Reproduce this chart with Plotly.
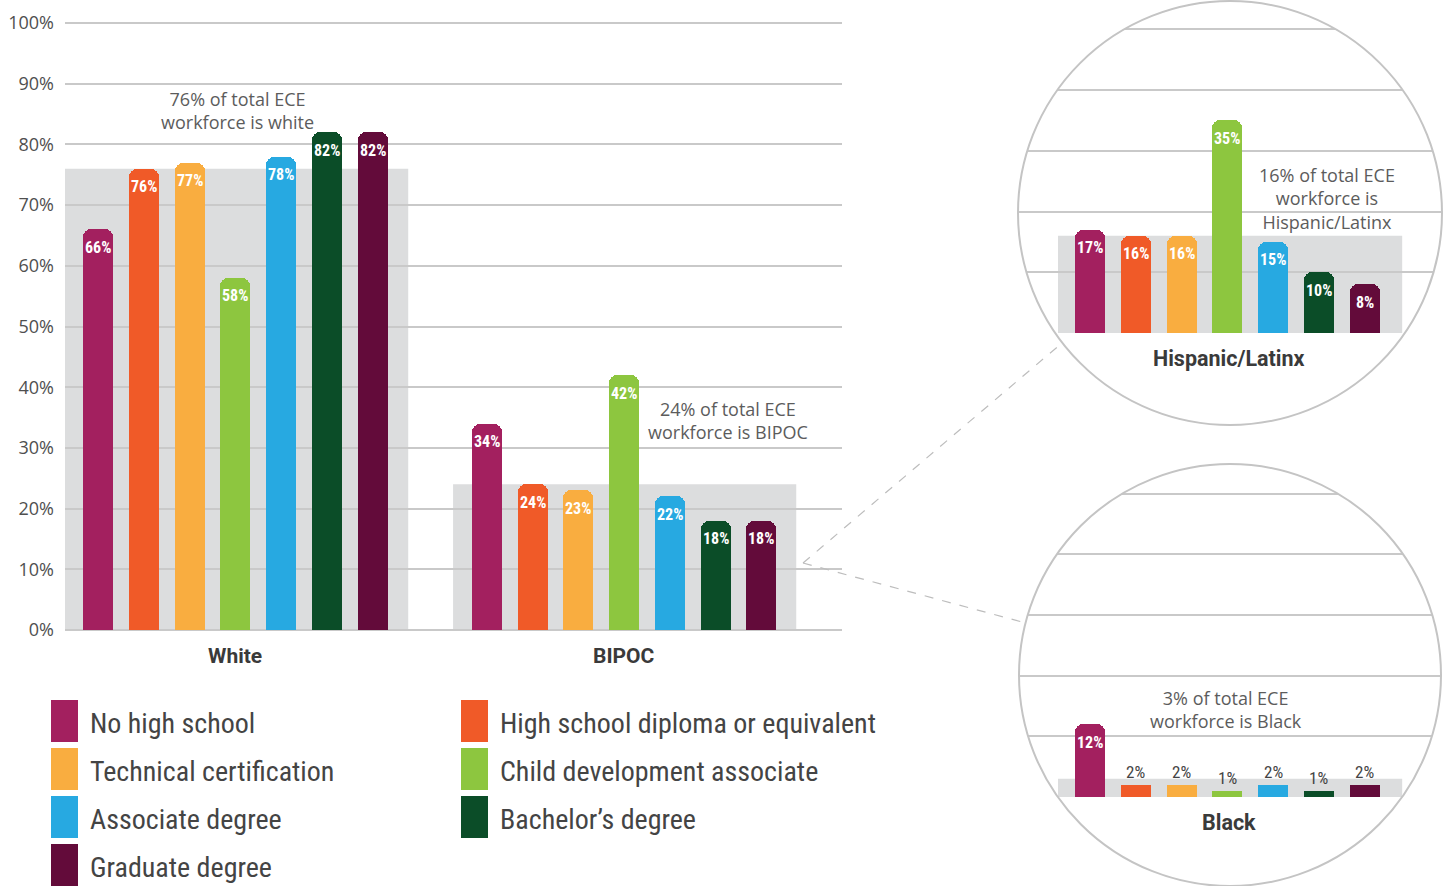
import plotly.graph_objects as go

# ---------------- data ----------------
levels = ["No high school", "High school diploma or equivalent", "Technical certification",
          "Child development associate", "Associate degree", "Bachelor’s degree", "Graduate degree"]
colors = ["#A3205F", "#F05A28", "#F9AD40", "#8DC63F", "#27A9E1", "#0B4D28", "#630B3A"]
white = [66, 76, 77, 58, 78, 82, 82]
bipoc = [34, 24, 23, 42, 22, 18, 18]
hispanic = [17, 16, 16, 35, 15, 10, 8]
black = [12, 2, 2, 1, 2, 1, 2]
group_names = ["White", "BIPOC"]
group_shares = [76, 24]
hispanic_share = 16
black_share = 3
y_ticks = [0, 10, 20, 30, 40, 50, 60, 70, 80, 90, 100]
y_ticktext = [f"{v}%" for v in y_ticks]
inset_ticks = [10, 20, 30, 40, 50]

# ---------------- geometry helpers ----------------
W, H = 1447, 886
def px(x):
    return x / W
def py(y):
    return 1 - y / H

NARROW = "Liberation Sans Narrow, Arial Narrow, Roboto Condensed, sans-serif"
SANS = "Open Sans, Roboto, sans-serif"
BOLD = "Roboto, Open Sans, sans-serif"
GRID = "#c9c9c9"
GRAYBOX = "#dcddde"
TXT = "#5c5c5c"
DARK = "#3a3a3a"

n = len(levels)
white_x = [i for i in range(n)]
bipoc_x = [8.5 + i for i in range(n)]
inset_x = [i for i in range(n)]
BW = 0.656

fig = go.Figure()

for i in range(n):
    fig.add_trace(go.Bar(x=[white_x[i], bipoc_x[i]], y=[white[i], bipoc[i]], width=BW,
                         marker=dict(color=colors[i], cornerradius=8, line=dict(width=0)),
                         name=levels[i], showlegend=False, xaxis="x", yaxis="y"))
    fig.add_trace(go.Bar(x=[inset_x[i]], y=[hispanic[i]], width=BW,
                         marker=dict(color=colors[i], cornerradius=8, line=dict(width=0)),
                         name=levels[i], showlegend=False, xaxis="x2", yaxis="y2"))
    fig.add_trace(go.Bar(x=[inset_x[i]], y=[black[i]], width=BW,
                         marker=dict(color=colors[i], cornerradius=8 if black[i] >= 5 else 0,
                                     line=dict(width=0)),
                         name=levels[i], showlegend=False, xaxis="x3", yaxis="y3"))

annotations = []
def bar_label(xr, yr, x, v, inside=True):
    if inside:
        annotations.append(dict(x=x, y=v, xref=xr, yref=yr, text=f"{v}%", showarrow=False,
                                xanchor="center", yanchor="middle", yshift=-18,
                                font=dict(family=NARROW, size=16, color="white", weight="bold")))
    else:
        annotations.append(dict(x=x, y=v, xref=xr, yref=yr, text=f"{v}%", showarrow=False,
                                xanchor="center", yanchor="middle", yshift=13,
                                font=dict(family=NARROW, size=17, color="#444444")))

for i in range(n):
    bar_label("x", "y", white_x[i], white[i])
    bar_label("x", "y", bipoc_x[i], bipoc[i])
    bar_label("x2", "y2", inset_x[i], hispanic[i])
    bar_label("x3", "y3", inset_x[i], black[i], inside=black[i] >= 5)

# group labels
group_centers = [sum(white_x) / n, sum(bipoc_x) / n]
for name, c in zip(group_names, group_centers):
    annotations.append(dict(x=c, y=py(656), xref="x", yref="paper", text=name, showarrow=False,
                            xanchor="center", yanchor="middle",
                            font=dict(family=BOLD, size=21, color=DARK, weight="bold")))

annotations.append(dict(x=px(1229), y=py(358), xref="paper", yref="paper", text="Hispanic/Latinx",
                        showarrow=False, xanchor="center", yanchor="middle",
                        font=dict(family=BOLD, size=21.5, color=DARK, weight="bold")))
annotations.append(dict(x=px(1229), y=py(822), xref="paper", yref="paper", text="Black",
                        showarrow=False, xanchor="center", yanchor="middle",
                        font=dict(family=BOLD, size=21.5, color=DARK, weight="bold")))

# callouts
callouts = [
    (237, 110, f"{group_shares[0]}% of total ECE<br>workforce is white"),
    (728, 421, f"{group_shares[1]}% of total ECE<br>workforce is BIPOC"),
    (1327, 198, f"{hispanic_share}% of total ECE<br>workforce is<br>Hispanic/Latinx"),
    (1226, 709, f"{black_share}% of total ECE<br>workforce is Black"),
]
for x, y, t in callouts:
    annotations.append(dict(x=px(x), y=py(y), xref="paper", yref="paper", text=t, showarrow=False,
                            xanchor="center", yanchor="middle", align="center",
                            font=dict(family=SANS, size=18, color=TXT)))

shapes = []
# gray share boxes
shapes.append(dict(type="rect", xref="x", yref="y", x0=-0.721, x1=6.78, y0=0, y1=group_shares[0],
                   fillcolor=GRAYBOX, line=dict(width=0), layer="below"))
shapes.append(dict(type="rect", xref="x", yref="y", x0=7.76, x1=15.26, y0=0, y1=group_shares[1],
                   fillcolor=GRAYBOX, line=dict(width=0), layer="below"))
shapes.append(dict(type="rect", xref="x2", yref="y2", x0=-0.70, x1=6.82, y0=0, y1=hispanic_share,
                   fillcolor=GRAYBOX, line=dict(width=0), layer="below"))
shapes.append(dict(type="rect", xref="x3", yref="y3", x0=-0.70, x1=6.82, y0=0, y1=black_share,
                   fillcolor=GRAYBOX, line=dict(width=0), layer="below"))

# masks outside the circles
def circle_mask(cx, cy, r, rx0, ry0, rx1, ry1):
    k = 0.5523 * r
    P = lambda x, y: f"{px(x):.5f},{py(y):.5f}"
    d = f"M {P(rx0, ry0)} L {P(rx1, ry0)} L {P(rx1, ry1)} L {P(rx0, ry1)} Z "
    d += (f"M {P(cx + r, cy)} "
          f"C {P(cx + r, cy - k)} {P(cx + k, cy - r)} {P(cx, cy - r)} "
          f"C {P(cx - k, cy - r)} {P(cx - r, cy - k)} {P(cx - r, cy)} "
          f"C {P(cx - r, cy + k)} {P(cx - k, cy + r)} {P(cx, cy + r)} "
          f"C {P(cx + k, cy + r)} {P(cx + r, cy + k)} {P(cx + r, cy)} Z")
    return dict(type="path", xref="paper", yref="paper", path=d, fillcolor="white",
                fillrule="evenodd", line=dict(width=0), layer="above")

HC = (1230, 213, 212)
BC = (1230, 675, 211)
shapes.append(circle_mask(*HC, 1012, -2, 1447, 334))
shapes.append(circle_mask(*BC, 1012, 460, 1447, 798))
for cx, cy, r in (HC, BC):
    shapes.append(dict(type="circle", xref="paper", yref="paper", x0=px(cx - r), x1=px(cx + r),
                       y0=py(cy + r), y1=py(cy - r), line=dict(color="#c4c4c4", width=2),
                       layer="above"))
# connector lines
for (x0, y0, x1, y1) in [(803, 563, 1062, 343), (803, 563, 1022, 622)]:
    shapes.append(dict(type="line", xref="paper", yref="paper", x0=px(x0), y0=py(y0),
                       x1=px(x1), y1=py(y1), line=dict(color="#bdbdbd", width=1.2, dash="dash"),
                       layer="above"))

# custom legend
for i, (lab, col) in enumerate(zip(levels, colors)):
    row, c = i // 2, i % 2
    sx = [51, 461][c]
    top = 700 + 48 * row
    shapes.append(dict(type="rect", xref="paper", yref="paper", x0=px(sx), x1=px(sx + 27),
                       y0=py(top + 42), y1=py(top), fillcolor=col, line=dict(width=0)))
    annotations.append(dict(x=px(sx + 37), y=py(top + 23), xref="paper", yref="paper", text=lab,
                            showarrow=False, xanchor="left", yanchor="middle",
                            font=dict(family=NARROW, size=28, color="#444444")))

fig.update_layout(
    width=W, height=H, margin=dict(l=0, r=0, t=0, b=0),
    paper_bgcolor="white", plot_bgcolor="rgba(0,0,0,0)",
    barmode="overlay", bargap=0,
    showlegend=False,
    xaxis=dict(domain=[px(65), px(842)], range=[-0.721, 16.26], showgrid=False, zeroline=False,
               showticklabels=False, fixedrange=True),
    yaxis=dict(domain=[py(630), py(17)], range=[0, 101], tickvals=y_ticks, ticktext=y_ticktext,
               showgrid=True, gridcolor=GRID, gridwidth=1.5, zeroline=True, zerolinecolor=GRID,
               zerolinewidth=1.5, tickfont=dict(family=SANS, size=18, color="#4f4f4f"),
               ticklabelstandoff=10, automargin=False),
    xaxis2=dict(domain=[px(1017), px(1442)], range=[-1.596, 7.69], visible=False, anchor="y2"),
    yaxis2=dict(domain=[py(333), py(2)], range=[0, 54.5], tickvals=inset_ticks, showticklabels=False,
                showgrid=True, gridcolor=GRID, gridwidth=1.5, zeroline=False, anchor="x2"),
    xaxis3=dict(domain=[px(1017), px(1442)], range=[-1.596, 7.69], visible=False, anchor="y3"),
    yaxis3=dict(domain=[py(797), py(464)], range=[0, 54.9], tickvals=inset_ticks, showticklabels=False,
                showgrid=True, gridcolor=GRID, gridwidth=1.5, zeroline=False, anchor="x3"),
    annotations=annotations, shapes=shapes,
)

fig.write_html("out.html", config={"displayModeBar": False},
               post_script="document.body.style.margin='0';")
